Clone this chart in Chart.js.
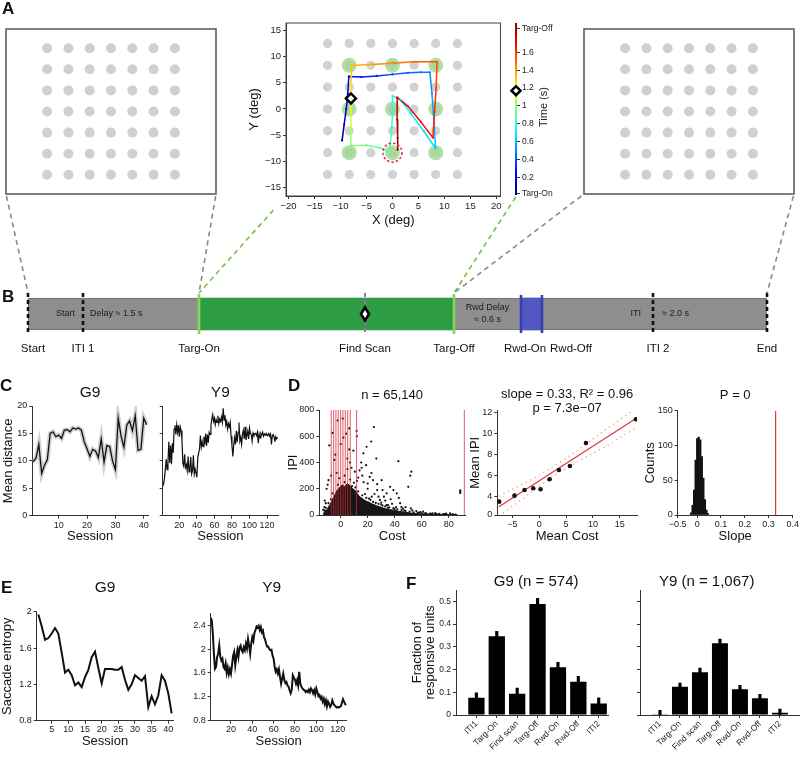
<!DOCTYPE html>
<html>
<head>
<meta charset="utf-8">
<title>Figure</title>
<script src="https://cdn.jsdelivr.net/npm/chart.js@4.4.1/dist/chart.umd.min.js"></script>
<style>
html,body{margin:0;padding:0;background:#fff;}
#page{position:relative;width:800px;height:759px;overflow:hidden;background:#fff;font-family:'Liberation Sans',Arial,Helvetica,sans-serif;color:#111;}
#page canvas{position:absolute;}
.plet{position:absolute;font-weight:bold;font-size:17px;line-height:20px;color:#111;}
#timeLbl{position:absolute;left:513px;top:100px;width:60px;height:14px;font-size:11px;line-height:14px;text-align:center;transform:rotate(-90deg);color:#222;}
</style>
</head>
<body>
<div id="page">
<div class="plet" style="left:2px;top:-1px">A</div>
<div class="plet" style="left:2px;top:287px">B</div>
<div class="plet" style="left:0px;top:376px">C</div>
<div class="plet" style="left:288px;top:376px">D</div>
<div class="plet" style="left:1px;top:578px">E</div>
<div class="plet" style="left:406px;top:574px">F</div>
<div id="timeLbl">Time (s)</div>
</div>
<script>
// ================= DATA =================
// Panel A : search array and one example trial
const gridPos = [-12.5, -8.33, -4.17, 0, 4.17, 8.33, 12.5];
const targetPos = [-8.33, 0, 8.33];
const trajX = [-9.7,-9.3,-8.9,-8.6,-8.4,-6.0,-3.0,0.0,3.0,5.5,7.2,7.6,7.9,8.1,8.3,6.0,3.5,1.5,0.0,0.0,-0.2,-0.6,-2.5,-5.0,-8.0,-8.0,-8.0,-8.0,-8.0,-7.8,-4.0,0.0,4.0,8.6,8.4,8.1,7.8,5.5,3.0,0.9,0.9,1.0,1.0];
const trajY = [-6.0,-3.0,0.0,3.0,6.2,6.1,6.3,6.6,6.9,7.0,7.0,3.0,-1.0,-4.5,-7.5,-4.2,-0.8,1.8,2.5,-1.0,-4.5,-8.1,-7.4,-6.9,-7.0,-4.0,-1.0,2.0,5.0,8.3,8.5,8.7,9.0,9.0,4.0,-0.5,-5.5,-2.5,0.5,2.2,-2.0,-5.5,-7.8];
const trajT = [0.00,0.05,0.10,0.15,0.20,0.25,0.30,0.35,0.40,0.45,0.48,0.52,0.55,0.58,0.62,0.66,0.70,0.73,0.76,0.79,0.82,0.86,0.89,0.92,0.96,1.02,1.10,1.17,1.24,1.30,1.36,1.42,1.47,1.52,1.56,1.60,1.64,1.68,1.72,1.76,1.80,1.84,1.88];
const scanPoint = [-8.0, 2.0];
const scanTime = 1.17;
const finalTarget = [0, -8.33];
const timeMax = 1.93;
const cbTickVals = [0.02,0.2,0.4,0.6,0.8,1,1.2,1.4,1.6,1.87];
const cbTickLabels = ['Targ-On','0.2','0.4','0.6','0.8','1','1.2','1.4','1.6','Targ-Off'];
const degTicksX = [-20,-15,-10,-5,0,5,10,15,20];
const degTicksY = [-15,-10,-5,0,5,10,15];

// Panel B : trial timeline (schematic time units)
const events = ['Start','ITI 1','Targ-On','Find Scan','Targ-Off','Rwd-On','Rwd-Off','ITI 2','End'];
const eventTimes = [0,55,171,337,426,493,514,625,739];

// Panel C : mean distance per session
const distTicks = [0,5,10,15,20];
const sessTicksCG9 = [10,20,30,40];
const sessTicksY9 = [20,40,60,80,100,120];
const distG9 = [9.8,10.5,13.0,7.7,9.2,10.2,15.0,15.3,14.4,14.7,14.1,15.6,15.7,15.3,16.0,15.8,16.0,15.6,13.5,12.2,10.8,12.1,11.8,10.6,14.0,9.8,12.8,12.6,10.0,8.4,17.8,14.5,12.5,16.5,17.3,15.5,18.2,11.9,12.1,17.8,16.6];
const distY9 = [5.4,5.7,6.8,8.5,10.3,8.4,9.8,13.5,9.6,12.8,
 9.4,13.2,11.5,15.8,16.5,14.8,16.6,15.2,16.5,14.4,
 16.2,15.5,13.8,9.5,9.0,11.2,8.8,9.3,8.2,10.8,
 8.0,8.6,10.7,7.6,8.2,11.0,7.6,8.5,7.8,7.0,
 10.6,11.4,12.2,14.6,12.5,13.5,12.6,14.4,13.0,15.0,
 12.7,14.8,13.3,15.2,14.8,16.4,17.6,18.4,17.2,17.8,
 16.6,17.5,17.0,18.2,16.8,17.6,17.2,18.0,17.0,19.6,
 17.4,18.3,16.5,17.2,15.8,16.8,16.2,17.0,14.5,12.8,
 10.8,12.9,14.2,13.0,15.5,13.4,15.2,17.0,13.6,14.3,
 13.0,14.9,15.6,14.0,16.2,13.8,14.6,15.4,14.0,16.0,
 15.0,14.8,13.6,15.1,14.7,14.9,15.0,14.6,15.2,13.2,
 14.9,14.2,15.0,14.7,15.2,14.5,14.9,14.7,15.0,14.6,
 14.8,15.0,14.5,14.9,13.0,14.6,14.8,14.3,13.5,14.4,
 14.0,14.3];

// Panel D : IPI vs cost
const costTicks = [0,20,40,60,80];
const ipiTicks = [0,200,400,600,800];
const binEdges = [-7.0,-5.2,-3.5,-1.8,0,1.7,3.4,5.2,7.1,11.8,91.5];
const denseEnvelope = [[-13,0],[-12.5,16],[-11.5,30],[-10,42],[-8.5,70],[-7,95],[-5.5,130],[-4,160],[-2.5,190],[-1,205],[1,230],[3,215],[5,240],[7,220],[9,200],[11,185],[12.5,160],[14,140],[15.5,130],[17,118],[19,105],[21,98],[23,85],[25,78],[27,68],[29,62],[31,55],[34,46],[37,40],[40,36],[43,28],[46,24],[49,19],[52,15],[55,11],[58,8],[62,6],[68,5],[74,4],[80,3],[86,2],[86,0]];
const sparsePts = [[-8.4,530],[-5.9,625],[-4.7,420],[-2.2,720],[1.5,735],[4,620],[6.4,660],[7,400],[11.8,640],[12,600],
 [2,590],[9.4,490],[6.4,500],[24.6,670],[22.6,560],[19.2,520],[16.8,470],[15.2,400],[15.5,360],[18.8,380],
 [26.4,430],[22.8,320],[21.5,290],[24,265],[27,235],[30.3,265],[31,190],[34,165],[36.6,215],[39,190],
 [41.5,165],[42.7,410],[50,215],[51.5,300],[52.3,330],[29,115],[34,75],[44,90],[48,60],[52,50],
 [61,25],[68,12],[73,8],[81,12],[88.5,178],[88.5,168],[88.5,188],[-10.4,200],[-9.6,230],[-11.8,110],
 [-9,265],[14,340],[13,285],[9.8,245],[8.4,220],[-3,320],[-1,280],[3,300],[5,350],[10.5,330],
 [-6,165],[-7.2,120],[17,250],[20,200],[25,160],[28,140],[33,110],[38,85],[45,60],[47,35],
 [56,30],[58,18],[63,15],[66,10],[70,14],[76,6],[83,5],[18,160],[23,140],[13,180],[11,210],
 [-12,60],[-13,40],[-11,90],[30,80],[35,55],[40,45],[57,8],[64,5],[78,10],[85,4],
 [-4,460],[0,540],[5,430],[8,360],[-7,300],[3,250],[-2,230],[7,270],[12,260],[16,300],[20,240],[27,190],[32,140],[37,120],[43,130],
 [16,150],[19,130],[22,115],[24,100],[26,92],[28,85],[31,72],[33,65],[36,58],[39,52],[42,44],[45,38],[48,30],[51,26],[54,20],[57,16],
 [60,12],[62,10],[-9,90],[-11,55],[-12,35],[21,125],[30,95],[35,75],[41,60],[46,48],[53,35],[59,22],[67,9],[71,7],[77,6],[83,4]];
const meanCost = [-7.45,-4.6,-2.73,-1.12,0.25,1.93,3.66,5.71,8.7,18.0];
const meanIPI = [3.49,4.06,4.6,4.76,4.67,5.62,6.5,6.89,9.08,11.33];
const fitX = [-7.5,18];
const fitY = [3.0,11.4];
const ciX = [-7.5,-2.5,2.5,7.5,12.5,18];
const ciUp = [4.0,5.3,6.8,8.5,10.4,12.4];
const ciLo = [2.1,4.0,5.9,7.4,8.8,10.5];
const meanCostTicks = [-5,0,5,10,15];
const meanIpiTickVals = ['min',4,6,8,10,12];
const meanIpiTickLabels = ['0','4','6','8','10','12'];
const slopeBins = [-0.026,-0.0195,-0.013,-0.0065,0,0.0065,0.013,0.0195,0.026,0.0325,0.039,0.0455];
const slopeCounts = [3,14,36,79,110,112,108,84,53,22,7,2];
const observedSlope = 0.33;
const slopeTickVals = ['min',0,0.1,0.2,0.3,'max'];
const slopeTickLabels = ['\u22120.5','0','0.1','0.2','0.3','0.4'];
const countTicks = [0,50,100,150];

// Panel E : saccade entropy
const entTicksG9 = [0.8,1.2,1.6,2];
const entTicksY9 = [0.8,1.2,1.6,2,2.4];
const sessTicksEG9 = [5,10,15,20,25,30,35,40];
const entropyG9 = [1.97,1.84,1.69,1.71,1.76,1.82,1.76,1.55,1.33,1.36,1.30,1.19,1.22,1.17,1.28,1.36,1.50,1.56,1.38,1.21,1.37,1.37,1.37,1.36,1.36,1.39,1.25,1.14,1.20,1.30,1.27,1.24,1.29,0.95,1.07,0.98,1.08,1.30,1.24,1.10,0.88];
const entropyY9 = [2.53,2.48,2.26,1.92,1.67,1.70,1.87,1.92,2.06,1.87,
 1.81,1.84,1.70,1.67,1.76,1.60,1.69,1.58,1.66,1.59,
 1.73,1.89,1.95,1.73,1.87,1.98,1.87,2.03,2.06,1.98,
 1.95,2.03,1.98,2.09,2.01,2.17,2.06,1.92,2.09,2.20,
 2.14,2.27,2.32,2.38,2.36,2.39,2.32,2.37,2.28,2.31,
 2.20,2.16,2.09,2.04,2.04,2.00,1.98,1.99,1.89,1.84,
 1.70,1.62,1.66,1.59,1.66,1.53,1.42,1.51,1.59,1.48,
 1.43,1.45,1.39,1.37,1.31,1.26,1.32,1.56,1.52,1.49,
 1.42,1.48,1.39,1.62,1.42,1.37,1.34,1.32,1.31,1.28,
 1.30,1.28,1.32,1.28,1.34,1.31,1.26,1.31,1.24,1.34,
 1.28,1.21,1.23,1.17,1.20,1.12,1.17,1.08,1.14,1.04,
 1.12,1.08,1.03,1.06,1.14,1.09,1.06,1.04,1.02,1.03,
 1.02,1.03,1.04,1.10,1.16,1.12,1.08,1.06];

// Panel F : fraction of responsive units
const fCats = ['ITI1','Targ-On','Find scan','Targ-Off','Rwd-On','Rwd-Off','ITI2'];
const fG9 = [0.076,0.346,0.094,0.488,0.21,0.146,0.051];
const fG9Err = [0.022,0.022,0.024,0.025,0.022,0.024,0.025];
const fY9 = [0.003,0.124,0.188,0.316,0.113,0.074,0.01];
const fY9Err = [0.018,0.016,0.018,0.018,0.017,0.017,0.016];
const fracTicks = [0,0.1,0.2,0.3,0.4,0.5];
const fracLabels = ['0','0.1','0.2','0.3','0.4','0.5'];

// ================= HELPERS =================
Chart.defaults.font.family = "'Liberation Sans', Arial, Helvetica, sans-serif";
Chart.defaults.color = '#222';
const FONT = "'Liberation Sans', Arial, Helvetica, sans-serif";

function merge(a, b) {
  for (const k in b) {
    const v = b[k];
    if (v && typeof v === 'object' && !Array.isArray(v)) {
      a[k] = merge(a[k] && typeof a[k] === 'object' && !Array.isArray(a[k]) ? a[k] : {}, v);
    } else a[k] = v;
  }
  return a;
}
function AX(vals, labels, extra) {
  const isX = extra && extra.position === 'bottom';
  const base = {
    type: 'linear', display: true, offset: false,
    border: {display: true, color: '#333', width: 1},
    grid: {display: true, drawOnChartArea: false, drawTicks: true, tickLength: 3, tickWidth: 1, tickColor: '#333', color: '#333', offset: false},
    ticks: {color: '#222', font: {size: 9}, padding: isX ? 1 : 2, autoSkip: false, maxRotation: 0, minRotation: 0,
      callback: (v, i) => labels ? labels[i] : String(vals[i]).replace('-', '\u2212')},
    title: {display: false, color: '#111', font: {size: 13}, padding: {top: 1, bottom: 1}},
    afterBuildTicks: s => { s.ticks = vals.map(v => ({value: v === 'min' ? s.min : v === 'max' ? s.max : v})); }
  };
  return merge(base, extra || {});
}
const T = (text, extra) => merge({display: true, text}, extra || {});
const xy = (xs, ys) => xs.map((x, i) => ({x, y: ys[i]}));
const sess = arr => arr.map((v, i) => ({x: i + 1, y: v}));
function jetCol(v) {
  v = Math.max(0, Math.min(1, v));
  const f = x => Math.round(255 * Math.max(0, Math.min(1, x)));
  return 'rgb(' + f(1.5 - Math.abs(4 * v - 3)) + ',' + f(1.5 - Math.abs(4 * v - 2)) + ',' + f(1.5 - Math.abs(4 * v - 1)) + ')';
}
function cbGradient(chart) {
  const ca = chart.chartArea;
  if (!ca) return '#888';
  const g = chart.ctx.createLinearGradient(0, ca.bottom, 0, ca.top);
  for (let i = 0; i <= 32; i++) g.addColorStop(i / 32, jetCol(i / 32));
  return g;
}

// ---- plugins ----
const framePlugin = {id: 'frame', afterDatasetsDraw(chart, a, o) {
  if (!o.color) return;
  const {left, top, right, bottom} = chart.chartArea, ctx = chart.ctx;
  ctx.save(); ctx.strokeStyle = o.color; ctx.lineWidth = o.width || 1;
  ctx.strokeRect(left, top, right - left, bottom - top); ctx.restore();
}};
const ringPlugin = {id: 'ring', afterDatasetsDraw(chart, a, o) {
  if (o.x === undefined) return;
  const px = chart.scales.x.getPixelForValue(o.x), py = chart.scales.y.getPixelForValue(o.y), ctx = chart.ctx;
  ctx.save(); ctx.strokeStyle = o.color; ctx.lineWidth = 1.5; ctx.setLineDash([2.5, 2]);
  ctx.beginPath(); ctx.arc(px, py, o.r, 0, Math.PI * 2); ctx.stroke(); ctx.restore();
}};
const titlePlugin = {id: 'ptitle', afterDraw(chart, a, o) {
  if (!o.items) return;
  const ctx = chart.ctx, ca = chart.chartArea;
  ctx.save(); ctx.fillStyle = '#111'; ctx.textAlign = 'center'; ctx.textBaseline = 'middle';
  for (const it of o.items) {
    ctx.font = (it.size || 15) + 'px ' + FONT;
    ctx.fillText(it.text, (ca.left + ca.right) / 2 + (it.dx || 0), it.y);
  }
  ctx.restore();
}};
const EV_KIND = {'Start':'k','ITI 1':'k','Targ-On':'g','Find Scan':'s','Targ-Off':'g','Rwd-On':'b','Rwd-Off':'b','ITI 2':'k','End':'k'};
const EV_STYLE = {
  k: {color: '#111', width: 2.6, dash: [4, 3], ext: 5},
  g: {color: '#86d65e', width: 2.6, dash: [], ext: 4},
  s: {color: '#9a6ec8', width: 2, dash: [4, 3], ext: 5},
  b: {color: '#3442b0', width: 2.6, dash: [], ext: 3}
};
const EV_LABEL_DX = {'Start': 5, 'Rwd-On': 4, 'Rwd-Off': 29, 'ITI 2': 5};
const timelinePlugin = {id: 'tline', afterDatasetsDraw(chart, a, o) {
  if (!o.names) return;
  const ctx = chart.ctx, xs = chart.scales.x;
  const el = chart.getDatasetMeta(0).data[0];
  const top = el.y - el.height / 2, bot = el.y + el.height / 2, mid = el.y;
  const X = n => xs.getPixelForValue(o.times[o.names.indexOf(n)]);
  ctx.save();
  ctx.fillStyle = '#1a1a1a'; ctx.font = '9px ' + FONT; ctx.textBaseline = 'middle';
  ctx.textAlign = 'right'; ctx.fillText('Start', X('ITI 1') - 8, mid);
  ctx.textAlign = 'left'; ctx.fillText('Delay \u2248 1.5 s', X('ITI 1') + 7, mid);
  ctx.textAlign = 'center';
  const rd = (X('Targ-Off') + X('Rwd-On')) / 2;
  ctx.fillText('Rwd Delay', rd, mid - 6); ctx.fillText('\u2248 0.6 s', rd, mid + 6);
  ctx.textAlign = 'right'; ctx.fillText('ITI', X('ITI 2') - 12, mid);
  ctx.textAlign = 'left'; ctx.fillText('\u2248 2.0 s', X('ITI 2') + 9, mid);
  o.names.forEach(n => {
    const st = EV_STYLE[EV_KIND[n]], x = X(n);
    ctx.strokeStyle = st.color; ctx.lineWidth = st.width; ctx.setLineDash(st.dash);
    ctx.beginPath(); ctx.moveTo(x, top - st.ext); ctx.lineTo(x, bot + st.ext); ctx.stroke();
  });
  ctx.setLineDash([]);
  const fx = X('Find Scan');
  ctx.fillStyle = '#000'; ctx.beginPath();
  ctx.moveTo(fx, mid - 9); ctx.lineTo(fx + 5.5, mid); ctx.lineTo(fx, mid + 9); ctx.lineTo(fx - 5.5, mid); ctx.closePath(); ctx.fill();
  ctx.fillStyle = '#fff'; ctx.beginPath();
  ctx.moveTo(fx, mid - 4); ctx.lineTo(fx + 2.5, mid); ctx.lineTo(fx, mid + 4); ctx.lineTo(fx - 2.5, mid); ctx.closePath(); ctx.fill();
  ctx.fillStyle = '#111'; ctx.font = '11.5px ' + FONT; ctx.textAlign = 'center'; ctx.textBaseline = 'middle';
  o.names.forEach(n => ctx.fillText(n, X(n) + (EV_LABEL_DX[n] || 0), bot + 19));
  ctx.restore();
}};
Chart.register(framePlugin, ringPlugin, titlePlugin, timelinePlugin);

const charts = {};
function place(id, rect, plot, cfg, under) {
  const [L, Tp, W, H] = rect, [pl, pt, pr, pb] = plot;
  const page = document.getElementById('page');
  const cv = document.createElement('canvas');
  cv.width = W; cv.height = H;
  cv.style.left = L + 'px'; cv.style.top = Tp + 'px'; cv.style.width = W + 'px'; cv.style.height = H + 'px';
  if (under) page.insertBefore(cv, page.firstChild); else page.appendChild(cv);
  const gaps = {left: pl - L, top: pt - Tp, right: L + W - pr, bottom: Tp + H - pb};
  const pad = {left: gaps.left, top: gaps.top, right: gaps.right, bottom: gaps.bottom};
  const o = cfg.options = cfg.options || {};
  o.scales = o.scales || {};
  for (const k in o.scales) {
    const s = o.scales[k];
    if (s.display === false) continue;
    const pos = s.position || (k === 'x' ? 'bottom' : 'left');
    s.position = pos;
    const g = gaps[pos];
    pad[pos] = 0;
    if (pos === 'left' || pos === 'right') s.afterFit = sc => { sc.width = g; };
    else s.afterFit = sc => { sc.height = g; };
  }
  o.layout = {padding: pad};
  o.responsive = false; o.maintainAspectRatio = false; o.animation = false; o.events = [];
  o.plugins = merge({legend: {display: false}, tooltip: {enabled: false}}, o.plugins || {});
  if (o.plugins.ptitle && o.plugins.ptitle.items) o.plugins.ptitle.items.forEach(it => { it.y = it.y - Tp; });
  const ch = new Chart(cv, cfg);
  ch.$L = L; ch.$T = Tp;
  charts[id] = ch;
  return ch;
}

// ================= PANEL A =================
const gridPts = []; gridPos.forEach(x => gridPos.forEach(y => gridPts.push({x, y})));
const tgtPts = []; targetPos.forEach(x => targetPos.forEach(y => tgtPts.push({x, y})));
function boxChart(id, L) {
  place(id, [L - 1, 24, 220, 175], [L, 25, L + 217, 197], {
    type: 'scatter',
    data: {datasets: [{data: gridPts, pointRadius: 5, backgroundColor: '#d0d0d0', borderWidth: 0}]},
    options: {scales: {x: {type: 'linear', display: false, min: -20.55, max: 20.55}, y: {type: 'linear', display: false, min: -16.3, max: 16.3}},
      plugins: {frame: {color: '#555', width: 1.5}}}
  });
}
boxChart('aLeft', 2);
boxChart('aRight', 580);

place('aMid', [246, 12, 262, 220], [286, 23, 502, 196], {
  type: 'scatter',
  data: {datasets: [
    {data: gridPts, pointRadius: 4.6, backgroundColor: '#d2d2d2', borderWidth: 0, order: 5},
    {data: tgtPts, pointRadius: 7.5, backgroundColor: 'rgba(160,215,145,0.8)', borderWidth: 0, order: 4},
    {data: xy(trajX, trajY), showLine: true, borderWidth: 1.5, borderColor: '#000', pointRadius: 1.1, pointBorderWidth: 0,
      pointBackgroundColor: c => jetCol(trajT[c.dataIndex] / timeMax),
      segment: {borderColor: c => jetCol(trajT[c.p1DataIndex] / timeMax)}, order: 3},
    {data: [{x: scanPoint[0], y: scanPoint[1]}], pointStyle: 'rectRot', pointRadius: 5, backgroundColor: '#fff', borderColor: '#000', borderWidth: 2.5, order: 1}
  ]},
  options: {
    scales: {
      x: AX(degTicksX, null, {min: -20.5, max: 20.8, position: 'bottom', ticks: {font: {size: 9.5}, padding: 2}, title: T('X (deg)', {padding: {top: 1, bottom: 4}})}),
      y: AX(degTicksY, null, {min: -16.6, max: 16.4, position: 'left', ticks: {font: {size: 9.5}}, title: T('Y (deg)')})
    },
    plugins: {frame: {color: '#444', width: 1}, ring: {x: finalTarget[0], y: finalTarget[1], r: 9.5, color: '#e0303a'}}
  }
});

place('aCb', [508, 12, 60, 200], [508, 23, 517, 195], {
  type: 'bar',
  data: {labels: [''], datasets: [
    {data: [[0, timeMax]], backgroundColor: c => cbGradient(c.chart), borderWidth: 0, barPercentage: 1, categoryPercentage: 1, grouped: false, order: 2},
    {type: 'line', data: [scanTime], showLine: false, pointStyle: 'rectRot', pointRadius: 4.5, pointBackgroundColor: '#fff', pointBorderColor: '#000', pointBorderWidth: 2.5, order: 1}
  ]},
  options: {scales: {
    x: {display: false},
    y: AX(cbTickVals, cbTickLabels, {min: 0, max: timeMax, position: 'right', ticks: {font: {size: 8.5}}, border: {display: false}})
  }}
});

// ================= PANEL B =================
const tOf = n => eventTimes[events.indexOf(n)];
place('bTime', [8, 284, 790, 80], [28, 285, 767, 343], {
  type: 'bar',
  data: {labels: [''], datasets: [
    {data: [[tOf('Start'), tOf('End')]], backgroundColor: '#8e8e8e', borderColor: '#6e6e6e', borderWidth: 1, borderSkipped: false, barThickness: 32, grouped: false, order: 3},
    {data: [[tOf('Targ-On'), tOf('Targ-Off')]], backgroundColor: '#2f9d45', borderWidth: 0, barThickness: 32, grouped: false, order: 2},
    {data: [[tOf('Rwd-On'), tOf('Rwd-Off')]], backgroundColor: '#5257c2', borderWidth: 0, barThickness: 32, grouped: false, order: 1}
  ]},
  options: {indexAxis: 'y',
    scales: {x: {type: 'linear', display: false, min: tOf('Start'), max: tOf('End')}, y: {display: false}},
    plugins: {tline: {names: events, times: eventTimes}}}
});

// ================= PANEL C =================
place('cG9', [0, 382, 152, 163], [32.3, 406, 148, 515.7], {
  type: 'line',
  data: {datasets: [
    {data: sess(distG9), borderColor: '#111', borderWidth: 1.3, pointRadius: 0, order: 1},
    {data: sess(distG9), borderColor: 'rgba(150,150,150,0.45)', borderWidth: 4.5, pointRadius: 0, order: 2}
  ]},
  options: {scales: {
    x: AX(sessTicksCG9, null, {min: 0.7, max: 41.5, position: 'bottom', title: T('Session')}),
    y: AX(distTicks, null, {min: 0, max: 20, position: 'left', title: T('Mean distance')})
  }, plugins: {ptitle: {items: [{text: 'G9', y: 393, size: 15.5}]}}}
});
place('cY9', [155, 382, 127, 163], [162.7, 406, 278, 515.7], {
  type: 'line',
  data: {datasets: [{data: sess(distY9), borderColor: '#111', borderWidth: 1.2, pointRadius: 0}]},
  options: {scales: {
    x: AX(sessTicksY9, null, {min: 1, max: 132.5, position: 'bottom', title: T('Session')}),
    y: AX(distTicks, distTicks.map(() => ''), {min: 0, max: 20, position: 'left'})
  }, plugins: {ptitle: {items: [{text: 'Y9', y: 393, size: 15.5}]}}}
});

// ================= PANEL D =================
place('dScat', [285, 383, 185, 162], [319.3, 410, 465, 515], {
  type: 'scatter',
  data: {datasets: [
    {type: 'line', data: denseEnvelope.map(p => ({x: p[0], y: p[1]})), fill: 'origin', backgroundColor: '#161616', borderColor: '#161616', borderWidth: 1, pointRadius: 0, order: 4},
    {data: sparsePts.map(p => ({x: p[0], y: p[1]})), pointRadius: 1.1, backgroundColor: '#111', borderWidth: 0, order: 3}
  ].concat(binEdges.map(e => ({type: 'line', data: [{x: e, y: 0}, {x: e, y: 800}], borderColor: 'rgba(220,40,50,0.85)', borderWidth: 0.9, pointRadius: 0, order: 1})))},
  options: {scales: {
    x: AX(costTicks, null, {min: -15.8, max: 92, position: 'bottom', title: T('Cost')}),
    y: AX(ipiTicks, null, {min: 0, max: 800, position: 'left', title: T('IPI')})
  }, plugins: {ptitle: {items: [{text: 'n = 65,140', y: 395, size: 13}]}}}
});
place('dMean', [467, 383, 175, 162], [497.3, 410.7, 637, 515], {
  type: 'scatter',
  data: {datasets: [
    {type: 'line', data: xy(ciX, ciUp), borderColor: '#f2959a', borderWidth: 1.1, borderDash: [1.5, 3.5], pointRadius: 0, order: 3},
    {type: 'line', data: xy(ciX, ciLo), borderColor: '#f2959a', borderWidth: 1.1, borderDash: [1.5, 3.5], pointRadius: 0, order: 3},
    {type: 'line', data: xy(fitX, fitY), borderColor: '#e2333d', borderWidth: 1.2, pointRadius: 0, order: 2},
    {data: xy(meanCost, meanIPI), pointRadius: 2.3, backgroundColor: '#111', borderWidth: 0, order: 1}
  ]},
  options: {scales: {
    x: AX(meanCostTicks, null, {min: -7.8, max: 18.2, position: 'bottom', title: T('Mean Cost')}),
    y: AX(meanIpiTickVals, meanIpiTickLabels, {min: 2.22, max: 12.15, position: 'left', title: T('Mean IPI')})
  }, plugins: {ptitle: {items: [{text: 'slope = 0.33, R\u00b2 = 0.96', y: 394, size: 13}, {text: 'p = 7.3e\u221207', y: 408, size: 13}]}}}
});
place('dHist', [642, 383, 158, 162], [677.7, 410.7, 793, 515], {
  type: 'bar',
  data: {datasets: [
    {data: xy(slopeBins, slopeCounts), backgroundColor: '#111', borderWidth: 0, barPercentage: 1, categoryPercentage: 1, order: 2},
    {type: 'line', data: [{x: observedSlope, y: 0}, {x: observedSlope, y: 150}], borderColor: '#e2333d', borderWidth: 1.2, pointRadius: 0, order: 1}
  ]},
  options: {scales: {
    x: AX(slopeTickVals, slopeTickLabels, {min: -0.082, max: 0.402, position: 'bottom', title: T('Slope')}),
    y: AX(countTicks, null, {min: 0, max: 150, position: 'left', title: T('Counts')})
  }, plugins: {ptitle: {items: [{text: 'P = 0', y: 395, size: 13}]}}}
});

// ================= PANEL E =================
place('eG9', [0, 578, 178, 172], [36.7, 611.7, 173.3, 720.7], {
  type: 'line',
  data: {datasets: [{data: sess(entropyG9), borderColor: '#111', borderWidth: 2, pointRadius: 0}]},
  options: {scales: {
    x: AX(sessTicksEG9, null, {min: 0.5, max: 41.5, position: 'bottom', ticks: {padding: 0}, title: T('Session')}),
    y: AX(entTicksG9, null, {min: 0.8, max: 2.0, position: 'left', title: T('Saccade entropy', {padding: {top: 0, bottom: 1}})})
  }, plugins: {ptitle: {items: [{text: 'G9', y: 588, size: 15.5}]}}}
});
place('eY9', [185, 578, 165, 172], [210.7, 613.3, 346.7, 720.7], {
  type: 'line',
  data: {datasets: [{data: sess(entropyY9), borderColor: '#111', borderWidth: 2, pointRadius: 0}]},
  options: {scales: {
    x: AX(sessTicksY9, null, {min: 1, max: 128.5, position: 'bottom', ticks: {padding: 0}, title: T('Session')}),
    y: AX(entTicksY9, null, {min: 0.8, max: 2.6, position: 'left'})
  }, plugins: {ptitle: {items: [{text: 'Y9', y: 588, size: 15.5, dx: -7}]}}}
});

// ================= PANEL F =================
const fPos = fCats.map((c, i) => i + 1);
function fSets(vals, errs) {
  return [
    {data: vals.map((v, i) => ({x: fPos[i], y: v})), backgroundColor: '#000', borderWidth: 0, barPercentage: 0.8, categoryPercentage: 1, grouped: false, order: 2},
    {data: vals.map((v, i) => ({x: fPos[i], y: [v - errs[i], v + errs[i]]})), backgroundColor: '#000', borderWidth: 0, barThickness: 2.5, grouped: false, order: 1}
  ];
}
const fXAxis = max => AX(fPos, fCats, {min: 0, max: max, position: 'bottom', ticks: {minRotation: 45, maxRotation: 45, font: {size: 8.5}, padding: 1}});
place('fG9', [410, 570, 200, 189], [456, 590, 608.3, 715], {
  type: 'bar',
  data: {datasets: fSets(fG9, fG9Err)},
  options: {scales: {
    x: fXAxis(7.47),
    y: AX(fracTicks, fracLabels, {min: 0, max: 0.55, position: 'left', ticks: {font: {size: 8.5}},
      title: T(['Fraction of', 'responsive units'], {font: {size: 13, lineHeight: 1.0}, padding: {top: 1, bottom: 0}})})
  }, plugins: {ptitle: {items: [{text: 'G9 (n = 574)', y: 582, size: 15, dx: 4}]}}}
});
place('fY9', [632, 570, 168, 189], [640, 590, 799.3, 715], {
  type: 'bar',
  data: {datasets: fSets(fY9, fY9Err)},
  options: {scales: {
    x: fXAxis(7.97),
    y: AX(fracTicks, fracTicks.map(() => ''), {min: 0, max: 0.55, position: 'left'})
  }, plugins: {ptitle: {items: [{text: 'Y9 (n = 1,067)', y: 582, size: 15, dx: -13}]}}}
});

// ================= CONNECTORS (overlay) =================
(function () {
  const tl = charts.bTime;
  const bar = tl.getDatasetMeta(0).data[0];
  const tlTop = tl.$T + bar.y - bar.height / 2 - 5;
  const tlx = n => tl.$L + tl.scales.x.getPixelForValue(tOf(n));
  const pt = (ch, side, vside) => [ch.$L + ch.chartArea[side], ch.$T + ch.chartArea[vside]];
  const L = charts.aLeft, R = charts.aRight, M = charts.aMid, CB = charts.aCb;
  const gray = '#8a8a8a', green = '#6cc24a';
  const segs = [
    [pt(L, 'left', 'bottom'), [tlx('Start'), tlTop], gray, 2],
    [pt(L, 'right', 'bottom'), [tlx('Targ-On'), tlTop], gray, 2],
    [pt(M, 'left', 'bottom'), [tlx('Targ-On'), tlTop], green, 14],
    [pt(CB, 'right', 'bottom'), [tlx('Targ-Off'), tlTop], green, 2],
    [pt(R, 'left', 'bottom'), [tlx('Targ-Off'), tlTop], gray, 2],
    [pt(R, 'right', 'bottom'), [tlx('End'), tlTop], gray, 2]
  ];
  const ds = segs.map(s => {
    const [a, b, col, skip] = s;
    const t = skip / (b[1] - a[1]);
    const start = {x: a[0] + (b[0] - a[0]) * t, y: a[1] + skip};
    return {data: [start, {x: b[0], y: b[1]}], showLine: true, borderColor: col, backgroundColor: col, borderWidth: 1.6, borderDash: [5, 4], pointRadius: 0};
  });
  place('overlay', [0, 0, 800, 759], [0, 0, 800, 759], {
    type: 'scatter',
    data: {datasets: ds},
    options: {scales: {x: {type: 'linear', display: false, min: 0, max: 800}, y: {type: 'linear', display: false, min: 0, max: 759, reverse: true}}}
  }, true);
})();
</script>
</body>
</html>
